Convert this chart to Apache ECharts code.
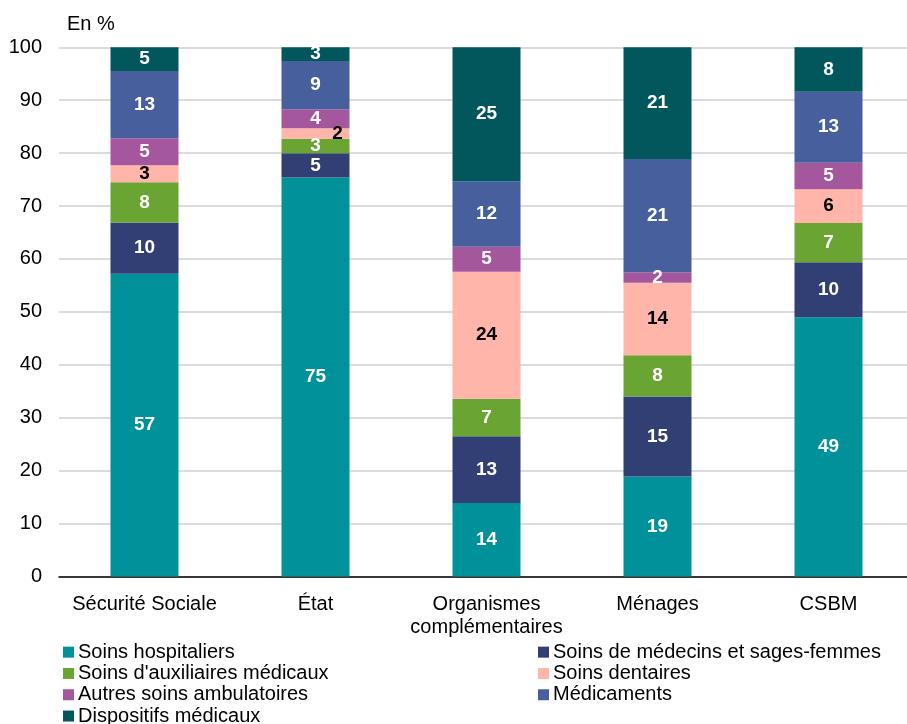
<!DOCTYPE html>
<html>
<head>
<meta charset="utf-8">
<script src="https://cdn.jsdelivr.net/npm/echarts@6/dist/echarts.min.js"></script>
<style>
  html, body { margin: 0; padding: 0; background: #fff; }
  #chart { width: 907px; height: 724px; }
</style>
</head>
<body>
<div id="chart"></div>
<script>
const categories = ['Sécurité Sociale', 'État', 'Organismes\ncomplémentaires', 'Ménages', 'CSBM'];
const seriesNames = [
  'Soins hospitaliers',
  'Soins de médecins et sages-femmes',
  "Soins d'auxiliaires médicaux",
  'Soins dentaires',
  'Autres soins ambulatoires',
  'Médicaments',
  'Dispositifs médicaux'
];
const soinsHospitaliers = [57.2, 75.4, 13.9, 18.9, 49.0];
const soinsMedecins     = [9.7, 4.6, 12.6, 15.1, 10.4];
const soinsAuxiliaires  = [7.6, 2.7, 7.1, 7.8, 7.4];
const soinsDentaires    = [3.2, 2.0, 24.0, 13.7, 6.4];
const autresSoins       = [5.1, 3.6, 4.7, 2.0, 5.0];
const medicaments       = [12.7, 9.1, 12.4, 21.4, 13.4];
const dispositifs       = [4.5, 2.6, 25.3, 21.1, 8.4];
const yTicks = [0, 10, 20, 30, 40, 50, 60, 70, 80, 90, 100];

const allValues = [soinsHospitaliers, soinsMedecins, soinsAuxiliaires, soinsDentaires, autresSoins, medicaments, dispositifs];
const colors = ['#00919A', '#313F75', '#6AA534', '#FFB5AA', '#A5579E', '#475F9C', '#02575C'];
const labelColors = ['#fff', '#fff', '#fff', '#000', '#fff', '#fff', '#fff'];

const FONT = '"Liberation Sans", Arial, sans-serif';

const series = allValues.map((vals, i) => ({
  name: seriesNames[i],
  type: 'bar',
  stack: 'total',
  barWidth: 68,
  itemStyle: { color: colors[i] },
  label: {
    show: true,
    position: 'inside',
    color: labelColors[i],
    fontFamily: FONT,
    fontWeight: 'bold',
    fontSize: 19,
    formatter: p => Math.round(p.value)
  },
  data: vals.map((v, j) => {
    if (i === 3 && j === 1) {
      return { value: v, label: { offset: [22, 0] } };
    }
    return v;
  })
}));

const legendText = { fontFamily: FONT, fontSize: 20, color: '#000', lineHeight: 21.3, padding: [0, 0, 0, -1] };

const chart = echarts.init(document.getElementById('chart'), null, { renderer: 'canvas' });
chart.setOption({
  animation: false,
  backgroundColor: '#fff',
  textStyle: { fontFamily: FONT },
  title: {
    text: 'En %',
    left: 67,
    top: 14,
    padding: 0,
    textStyle: { fontFamily: FONT, fontSize: 20, fontWeight: 'normal', color: '#000' }
  },
  grid: { left: 59, width: 855, top: 47.3, bottom: 147.5, containLabel: false, outerBoundsMode: 'none' },
  xAxis: {
    type: 'category',
    data: categories,
    axisLine: { show: true, lineStyle: { color: '#000', width: 1.5 } },
    axisTick: { show: false },
    axisLabel: {
      color: '#000', fontFamily: FONT, fontSize: 20, margin: 16, lineHeight: 23, interval: 0
    }
  },
  yAxis: {
    type: 'value',
    min: 0, max: 100, interval: 10,
    axisLine: { show: false },
    axisTick: { show: false },
    splitLine: { lineStyle: { color: '#DCDCDC', width: 2 } },
    axisLabel: {
      color: '#000', fontFamily: FONT, fontSize: 20, margin: 17,
      formatter: v => yTicks.includes(v) ? String(v) : ''
    }
  },
  legend: [
    {
      data: [seriesNames[0], seriesNames[2], seriesNames[4], seriesNames[6]],
      orient: 'vertical',
      left: 63, top: 641.5, height: 120,
      itemWidth: 11, itemHeight: 11, itemGap: 0,
      icon: 'rect',
      padding: 0,
      textStyle: legendText
    },
    {
      data: [seriesNames[1], seriesNames[3], seriesNames[5]],
      orient: 'vertical',
      left: 538, top: 641.5, height: 120,
      itemWidth: 11, itemHeight: 11, itemGap: 0,
      icon: 'rect',
      padding: 0,
      textStyle: legendText
    }
  ],
  series: series
});
</script>
</body>
</html>
